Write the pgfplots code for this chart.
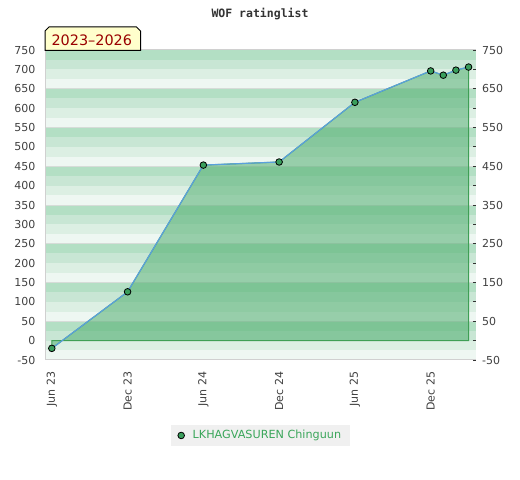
\documentclass[border=0pt]{standalone}
\usepackage{pgfplots}
\pgfplotsset{compat=1.18}
\usepackage{pgfplotstable}
\usepackage{fontspec}
\setmainfont{DejaVu Sans}
\newfontfamily\monofont{DejaVu Sans Mono}
\definecolor{sA}{HTML}{B3DFC4}
\definecolor{sB}{HTML}{C8E6D4}
\definecolor{sC}{HTML}{DCEFE3}
\definecolor{sD}{HTML}{EEF7F2}
\definecolor{gridc}{HTML}{D6DCD8}
\definecolor{framec}{HTML}{D0D0D0}
\definecolor{fillc}{HTML}{51AE70}
\definecolor{edgec}{HTML}{3F9F55}
\definecolor{linec}{HTML}{5AA0DC}
\definecolor{markc}{HTML}{3A9E5C}
\definecolor{ticktext}{HTML}{404040}
\definecolor{titletext}{HTML}{333333}
\definecolor{legtext}{HTML}{3AA65A}
\definecolor{legbg}{HTML}{F0F0F0}
\definecolor{boxfill}{HTML}{FFFFCC}
\definecolor{boxtext}{HTML}{990000}

\pgfplotstableread{
m r
0 -20
6 126
12 453
18 461
24 615
30 696
31 685
32 698
33 706
}\ratings

\begin{document}
\begin{tikzpicture}
\path (0bp,0bp) rectangle (520bp,480bp);
\begin{axis}[
  at={(45.5bp,120bp)}, anchor=south west,
  scale only axis, width=430bp, height=310bp,
  xmin=-0.5, xmax=33.55, ymin=-50, ymax=750,
  set layers, clip=false,
  axis line style={draw=none},
  xtick={0,6,12,18,24,30},
  xticklabels={Jun 23,Dec 23,Jun 24,Dec 24,Jun 25,Dec 25},
  ytick={-50,0,...,750},
  major tick length=0pt,
  /pgf/number format/assume math mode=true,
  yticklabel={\pgfmathprintnumber{\tick}},
  ticklabel style={font=\fontsize{11bp}{13bp}\selectfont, text=ticktext},
  xticklabel style={rotate=90, anchor=east, inner sep=0pt},
  yticklabel style={anchor=east, inner sep=0pt},
  xticklabel shift=11.7bp,
  yticklabel shift=10bp,
  legend style={at={(0.5,-0.2435)}, anchor=center, draw=none, fill=legbg,
    inner xsep=7bp, inner ysep=3.6bp,
    font=\fontsize{11.2bp}{13bp}\selectfont,
    nodes={text=legtext, inner sep=2bp}},
  legend image code/.code={\path[draw=none, fill=none] (0bp,0bp) -- (9.5bp,0bp); \draw[#1] plot coordinates {(0bp,0bp)};},
]
\begin{pgfonlayer}{axis background}
\pgfplotsinvokeforeach{0,...,7}{
  \fill[sA] (axis cs:-0.5,{#1*100+25}) rectangle (axis cs:33.55,{#1*100+50});
  \fill[sB] (axis cs:-0.5,{#1*100}) rectangle (axis cs:33.55,{#1*100+25});
  \fill[sC] (axis cs:-0.5,{#1*100-25}) rectangle (axis cs:33.55,{#1*100});
  \fill[sD] (axis cs:-0.5,{#1*100-50}) rectangle (axis cs:33.55,{#1*100-25});
}
\pgfplotsinvokeforeach{1,...,7}{
  \draw[gridc, line width=0.9bp] (axis cs:-0.5,{#1*100-50}) -- (axis cs:33.55,{#1*100-50});
}
\end{pgfonlayer}
\draw[framec, line width=1bp] (rel axis cs:1,1) -- (rel axis cs:0,1) -- (rel axis cs:0,0) -- (rel axis cs:1,0);
\addplot[fill=fillc, fill opacity=0.55, draw=edgec, line width=1bp, forget plot]
  coordinates {(0,0) (0,-20) (6,126) (12,453) (18,461) (24,615) (30,696) (31,685) (32,698) (33,706) (33,0)} -- cycle;
\addplot[linec, line width=1.2bp, mark=*, mark size=3.3bp,
  mark options={fill=markc, draw=black, line width=0.8bp}, forget plot]
  table[x=m, y=r] {\ratings};
\addlegendimage{only marks, mark=*, mark size=3.3bp, mark options={fill=markc, draw=black, line width=0.8bp}}
\addlegendentry{LKHAGVASUREN Chinguun}
\end{axis}
\begin{axis}[
  at={(45.5bp,120bp)}, anchor=south west,
  scale only axis, width=430bp, height=310bp,
  xmin=-0.5, xmax=33.55, ymin=-50, ymax=750,
  axis x line=none,
  axis y line*=right,
  y axis line style={draw=none},
  ytick={-50,50,...,750},
  minor ytick={0,100,...,700},
  tick align=inside,
  major tick length=3bp, minor tick length=3bp,
  ytick style={draw=titletext, line width=0.8bp},
  /pgf/number format/assume math mode=true,
  yticklabel={\pgfmathprintnumber{\tick}},
  yticklabel style={anchor=west, inner sep=0pt, font=\fontsize{11bp}{13bp}\selectfont, text=ticktext},
  yticklabel shift=6.5bp,
]
\addplot[draw=none, forget plot] coordinates {(0,0) (33,700)};
\end{axis}
\draw[black, line width=1bp, fill=boxfill] (45bp,429.5bp) -- (45bp,449bp) -- (49bp,453bp) -- (136.5bp,453bp) -- (140.5bp,449bp) -- (140.5bp,429.5bp) -- cycle;
\node[anchor=base, text=boxtext, inner sep=0pt, font=\fontsize{14.4bp}{16bp}\selectfont] at (91.8bp,434.3bp) {2023–2026};
\node[anchor=base, text=titletext, inner sep=0pt, font=\monofont\bfseries\fontsize{11.5bp}{13bp}\selectfont] at (260bp,462.7bp) {WOF ratinglist};
\end{tikzpicture}
\end{document}
